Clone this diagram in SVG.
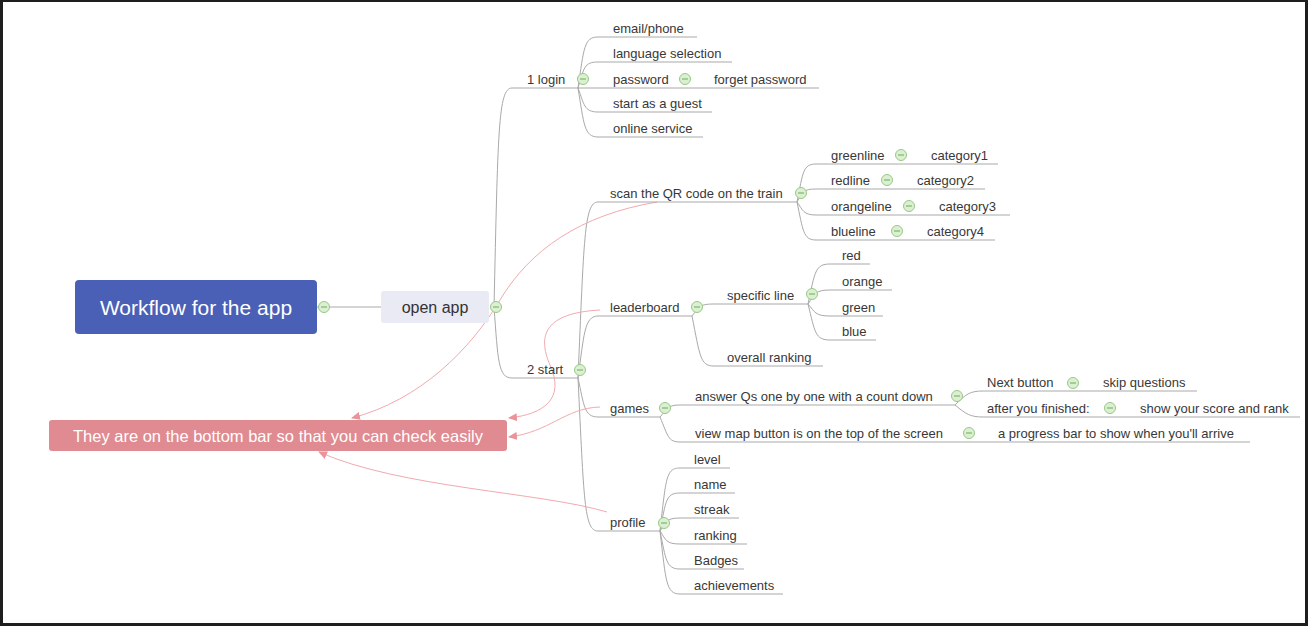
<svg xmlns="http://www.w3.org/2000/svg" xmlns:xlink="http://www.w3.org/1999/xlink" width="1308" height="626" viewBox="0 0 1308 626">
<style>
.t{font-family:"Liberation Sans",Arial,sans-serif;font-size:13px;fill:#383838}
.u{stroke:#a9a9a9;stroke-width:1;fill:none}
.n{stroke:#f2a9af;stroke-width:1;fill:none}
</style>
<defs>
<g id="c"><circle r="5.5" fill="#dcefd3" stroke="#95ca85" stroke-width="1"/><line x1="-3" y1="0" x2="3" y2="0" stroke="#7cb86c" stroke-width="1.2"/></g>
<marker id="ah" markerUnits="userSpaceOnUse" markerWidth="9" markerHeight="8" refX="8" refY="4" orient="auto"><path d="M0,0 L9,4 L0,8 z" fill="#ec929a"/></marker>
</defs>
<rect x="0" y="0" width="1308" height="626" fill="#ffffff"/>
<g id="frame" fill="#1e1e1e"><rect x="0" y="0" width="1308" height="2"/><rect x="0" y="0" width="3" height="626"/><rect x="1305" y="0" width="3" height="626"/><rect x="0" y="623" width="1308" height="3"/></g>

<g id="connectors" class="u">
<path d="M317,307 H381"/>
<path d="M494,307 C498,132 498,88 512,88 H578"/>
<path d="M494,307 C498,360 498,378 512,378 H578"/>
<!-- login children -->
<path d="M578,88 C584,48 584,37 598,37"/>
<path d="M578,88 C584,68 584,62 598,62"/>
<path d="M578,88 H598"/>
<path d="M578,88 C584,104 584,112 598,112"/>
<path d="M578,88 C584,124 584,137 598,137"/>
<!-- start children -->
<path d="M578,378 C584,240 584,202 598,202"/>
<path d="M578,378 C584,336 584,316 598,316"/>
<path d="M578,378 C584,405 584,417 598,417"/>
<path d="M578,378 C584,500 584,531 598,531"/>
<!-- scan children -->
<path d="M797,202 C803,172 803,164 816,164"/>
<path d="M797,202 C803,192 803,189 816,189"/>
<path d="M797,202 C803,210 803,215 816,215"/>
<path d="M797,202 C803,230 803,240 816,240"/>
<!-- leaderboard children -->
<path d="M692,316 C700,306 700,304 714,304"/>
<path d="M692,316 C700,356 700,366 714,366"/>
<!-- specific line children -->
<path d="M808,304 C815,272 815,264 830,264"/>
<path d="M808,304 C815,294 815,290 830,290"/>
<path d="M808,304 C815,312 815,316 830,316"/>
<path d="M808,304 C815,332 815,340 830,340"/>
<!-- games children -->
<path d="M660,417 C668,408 668,405 680,405"/>
<path d="M660,417 C668,436 668,442 680,442"/>
<!-- answer children -->
<path d="M955,405 C966,394 970,391 983,391"/>
<path d="M955,405 C966,414 970,417 983,417"/>
<!-- profile children -->
<path d="M660,531 C666,478 666,468 680,468"/>
<path d="M660,531 C666,500 666,493 680,493"/>
<path d="M660,531 C666,522 666,518 680,518"/>
<path d="M660,531 C666,540 666,544 680,544"/>
<path d="M660,531 C666,560 666,569 680,569"/>
<path d="M660,531 C666,582 666,594 680,594"/>
<!-- notes -->
<path class="n" marker-end="url(#ah)" d="M657,202 C580,215 530,250 500,300 S420,400 352,418"/>
<path class="n" marker-end="url(#ah)" d="M600,310 C545,313 537,335 550,365 C565,398 545,414 509,418"/>
<path class="n" marker-end="url(#ah)" d="M600,407 C565,408 550,432 509,437"/>
<path class="n" marker-end="url(#ah)" d="M607,512 C540,492 400,488 319,452"/>
</g>

<g id="root"><rect x="75" y="280" width="242" height="54" rx="4" fill="#4a5fb6"/><text x="196" y="315" text-anchor="middle" style="font-family:'Liberation Sans',Arial,sans-serif;font-size:21px;fill:#ffffff">Workflow for the app</text><use href="#c" x="324" y="307"/></g>
<g id="open-app"><rect x="381" y="291" width="108" height="32" rx="3" fill="#e9eaf3"/><text x="435" y="313" text-anchor="middle" style="font-family:'Liberation Sans',Arial,sans-serif;font-size:16px;fill:#333">open app</text><use href="#c" x="496" y="307"/></g>

<g id="login"><text class="t" x="527" y="84">1 login</text><use href="#c" x="583" y="79"/></g>
<g id="email"><path class="u" d="M598,37 H697"/><text class="t" x="613" y="33">email/phone</text></g>
<g id="language"><path class="u" d="M598,62 H732"/><text class="t" x="613" y="58">language selection</text></g>
<g id="password"><path class="u" d="M598,88 H819"/><text class="t" x="613" y="84">password</text><use href="#c" x="685" y="79"/><text class="t" x="714" y="84">forget password</text></g>
<g id="guest"><path class="u" d="M598,112 H712"/><text class="t" x="613" y="108">start as a guest</text></g>
<g id="online"><path class="u" d="M598,137 H703"/><text class="t" x="613" y="133">online service</text></g>

<g id="start"><text class="t" x="527" y="374">2 start</text><use href="#c" x="580" y="370"/></g>

<g id="scan"><path class="u" d="M598,202 H797"/><text class="t" x="610" y="198">scan the QR code on the train</text><use href="#c" x="801" y="193"/></g>
<g id="greenline"><path class="u" d="M816,164 H998"/><text class="t" x="831" y="160">greenline</text><use href="#c" x="901" y="155"/><text class="t" x="931" y="160">category1</text></g>
<g id="redline"><path class="u" d="M816,189 H985"/><text class="t" x="831" y="185">redline</text><use href="#c" x="887" y="180"/><text class="t" x="917" y="185">category2</text></g>
<g id="orangeline"><path class="u" d="M816,215 H1010"/><text class="t" x="831" y="211">orangeline</text><use href="#c" x="909" y="206"/><text class="t" x="939" y="211">category3</text></g>
<g id="blueline"><path class="u" d="M816,240 H995"/><text class="t" x="831" y="236">blueline</text><use href="#c" x="897" y="231"/><text class="t" x="927" y="236">category4</text></g>

<g id="leaderboard"><path class="u" d="M598,316 H692"/><text class="t" x="610" y="312">leaderboard</text><use href="#c" x="697" y="307"/></g>
<g id="specific"><path class="u" d="M714,304 H808"/><text class="t" x="727" y="300">specific line</text><use href="#c" x="812" y="294"/></g>
<g id="overall"><path class="u" d="M714,366 H823"/><text class="t" x="727" y="362">overall ranking</text></g>
<g id="red"><path class="u" d="M830,264 H870"/><text class="t" x="842" y="260">red</text></g>
<g id="orange"><path class="u" d="M830,290 H892"/><text class="t" x="842" y="286">orange</text></g>
<g id="green"><path class="u" d="M830,316 H883"/><text class="t" x="842" y="312">green</text></g>
<g id="blue"><path class="u" d="M830,340 H876"/><text class="t" x="842" y="336">blue</text></g>

<g id="games"><path class="u" d="M598,417 H660"/><text class="t" x="610" y="413">games</text><use href="#c" x="665" y="408"/></g>
<g id="answer"><path class="u" d="M680,405 H955"/><text class="t" x="695" y="401">answer Qs one by one with a count down</text><use href="#c" x="957" y="396"/></g>
<g id="viewmap"><path class="u" d="M680,442 H1250"/><text class="t" x="695" y="438">view map button is on the top of the screen</text><use href="#c" x="969" y="433"/><text class="t" x="998" y="438">a progress bar to show when you'll arrive</text></g>
<g id="next"><path class="u" d="M983,391 H1197"/><text class="t" x="987" y="387">Next button</text><use href="#c" x="1073" y="383"/><text class="t" x="1103" y="387">skip questions</text></g>
<g id="after"><path class="u" d="M983,417 H1300"/><text class="t" x="987" y="413">after you finished:</text><use href="#c" x="1110" y="408"/><text class="t" x="1140" y="413">show your score and rank</text></g>

<g id="profile"><path class="u" d="M598,531 H660"/><text class="t" x="610" y="527">profile</text><use href="#c" x="664" y="523"/></g>
<g id="level"><path class="u" d="M680,468 H730"/><text class="t" x="694" y="464">level</text></g>
<g id="name"><path class="u" d="M680,493 H735"/><text class="t" x="694" y="489">name</text></g>
<g id="streak"><path class="u" d="M680,518 H739"/><text class="t" x="694" y="514">streak</text></g>
<g id="ranking"><path class="u" d="M680,544 H747"/><text class="t" x="694" y="540">ranking</text></g>
<g id="badges"><path class="u" d="M680,569 H744"/><text class="t" x="694" y="565">Badges</text></g>
<g id="achievements"><path class="u" d="M680,594 H783"/><text class="t" x="694" y="590">achievements</text></g>

<g id="note"><rect x="49" y="420" width="458" height="31" rx="3" fill="#e08a91"/><text x="278" y="441.5" text-anchor="middle" style="font-family:'Liberation Sans',Arial,sans-serif;font-size:16.5px;fill:#ffffff">They are on the bottom bar so that you can check easily</text></g>
</svg>
